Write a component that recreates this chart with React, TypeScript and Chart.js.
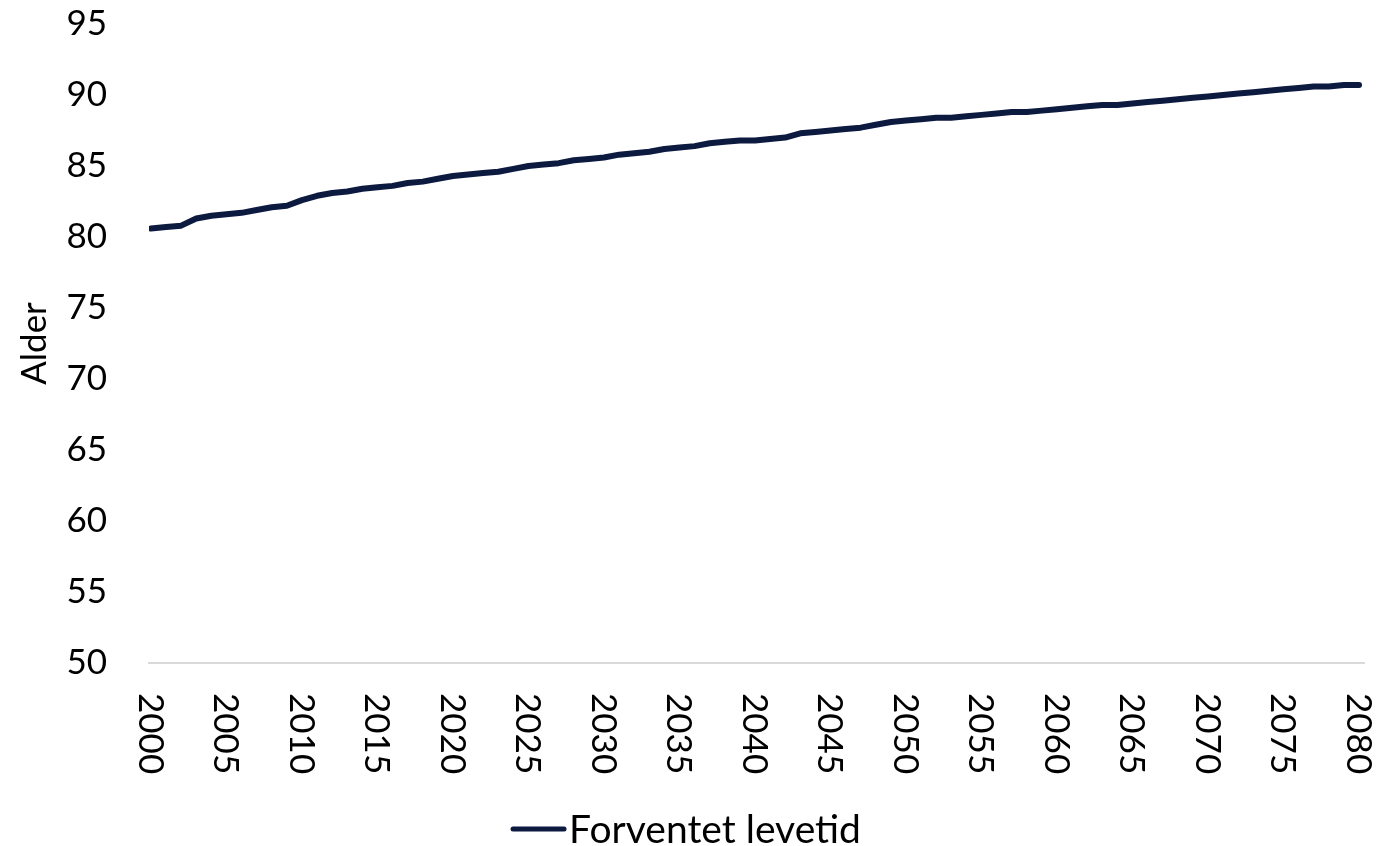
import React, { useEffect, useRef } from "react";
import { Chart, registerables } from "chart.js";

Chart.register(...registerables);

const years: number[] = [
  2000, 2001, 2002, 2003, 2004, 2005, 2006, 2007, 2008, 2009,
  2010, 2011, 2012, 2013, 2014, 2015, 2016, 2017, 2018, 2019,
  2020, 2021, 2022, 2023, 2024, 2025, 2026, 2027, 2028, 2029,
  2030, 2031, 2032, 2033, 2034, 2035, 2036, 2037, 2038, 2039,
  2040, 2041, 2042, 2043, 2044, 2045, 2046, 2047, 2048, 2049,
  2050, 2051, 2052, 2053, 2054, 2055, 2056, 2057, 2058, 2059,
  2060, 2061, 2062, 2063, 2064, 2065, 2066, 2067, 2068, 2069,
  2070, 2071, 2072, 2073, 2074, 2075, 2076, 2077, 2078, 2079,
  2080,
];

const forventetLevetid: number[] = [
  80.6, 80.7, 80.8, 81.3, 81.5, 81.6, 81.7, 81.9, 82.1, 82.2,
  82.6, 82.9, 83.1, 83.2, 83.4, 83.5, 83.6, 83.8, 83.9, 84.1,
  84.3, 84.4, 84.5, 84.6, 84.8, 85.0, 85.1, 85.2, 85.4, 85.5,
  85.6, 85.8, 85.9, 86.0, 86.2, 86.3, 86.4, 86.6, 86.7, 86.8,
  86.8, 86.9, 87.0, 87.3, 87.4, 87.5, 87.6, 87.7, 87.9, 88.1,
  88.2, 88.3, 88.4, 88.4, 88.5, 88.6, 88.7, 88.8, 88.8, 88.9,
  89.0, 89.1, 89.2, 89.3, 89.3, 89.4, 89.5, 89.6, 89.7, 89.8,
  89.9, 90.0, 90.1, 90.2, 90.3, 90.4, 90.5, 90.6, 90.6, 90.7,
  90.7,
];

const xTickLabels: string[] = [
  "2000", "2005", "2010", "2015", "2020", "2025", "2030", "2035", "2040",
  "2045", "2050", "2055", "2060", "2065", "2070", "2075", "2080",
];

const seriesName = "Forventet levetid";
const yTitle = "Alder";
const lineColor = "#0c1a40";
const FONT = "Lato";

const customDraw = {
  id: "customDraw",
  afterDraw(chart: any) {
    const ctx = chart.ctx as CanvasRenderingContext2D;
    const xs = chart.scales.x;
    ctx.save();
    ctx.font = `35px ${FONT}`;
    ctx.fillStyle = "#000000";
    ctx.textAlign = "left";
    ctx.textBaseline = "middle";
    for (const t of xTickLabels) {
      const px = xs.getPixelForValue(Number(t));
      ctx.save();
      ctx.translate(px, xs.top + 30);
      ctx.rotate(Math.PI / 2);
      ctx.fillText(t, 0, 1);
      ctx.restore();
    }
    // legend
    ctx.font = `39px ${FONT}`;
    const w = ctx.measureText(seriesName).width;
    const lineLen = 55;
    const gap = 3;
    const total = lineLen + gap + w;
    const startX = chart.width / 2 - 4 - total / 2;
    const ly = 829;
    ctx.strokeStyle = lineColor;
    ctx.lineWidth = 5;
    ctx.lineCap = "round";
    ctx.beginPath();
    ctx.moveTo(startX + 2, ly);
    ctx.lineTo(startX + lineLen - 2, ly);
    ctx.stroke();
    ctx.fillText(seriesName, startX + lineLen + gap, ly + 1);
    ctx.restore();
  },
};

export default function App() {
  const canvasRef = useRef<HTMLCanvasElement | null>(null);

  useEffect(() => {
    if (!canvasRef.current) return;
    const chart = new Chart(canvasRef.current, {
      type: "line",
      data: {
        datasets: [
          {
            label: seriesName,
            data: years.map((y, i) => ({ x: y, y: forventetLevetid[i] })),
            borderColor: lineColor,
            backgroundColor: lineColor,
            borderWidth: 6,
            borderCapStyle: "round",
            borderJoinStyle: "round",
            pointRadius: 0,
            tension: 0,
            fill: false,
          },
        ],
      },
      options: {
        responsive: false,
        animation: false,
        devicePixelRatio: 1,
        layout: { padding: { left: 0, right: 16, top: 24, bottom: 0 } },
        plugins: {
          legend: { display: false },
          tooltip: { enabled: false },
        },
        scales: {
          x: {
            type: "linear",
            min: 1999.87,
            max: 2080.33,
            grid: { display: false, drawTicks: false },
            border: { display: true, color: "#d9d9d9", width: 2 },
            ticks: { display: false },
            afterFit: (s: any) => {
              s.height = 183;
              s.paddingLeft = 0;
              s.paddingRight = 0;
            },
          },
          y: {
            type: "linear",
            min: 50,
            max: 95,
            grid: { display: false, drawTicks: false },
            border: { display: false },
            ticks: {
              stepSize: 5,
              padding: 42,
              color: "#000000",
              font: { family: FONT, size: 35 },
            },
            title: {
              display: true,
              text: yTitle,
              color: "#000000",
              font: { family: FONT, size: 35 },
              padding: { top: 14, bottom: 0 },
            },
            afterFit: (s: any) => {
              s.width = 149;
              s.paddingTop = 0;
              s.paddingBottom = 0;
            },
          },
        },
      },
      plugins: [customDraw],
    });
    return () => chart.destroy();
  }, []);

  return (
    <div style={{ position: "fixed", left: 0, top: 0, width: 1380, height: 846, background: "#ffffff" }}>
      <canvas ref={canvasRef} width={1380} height={846} />
    </div>
  );
}
